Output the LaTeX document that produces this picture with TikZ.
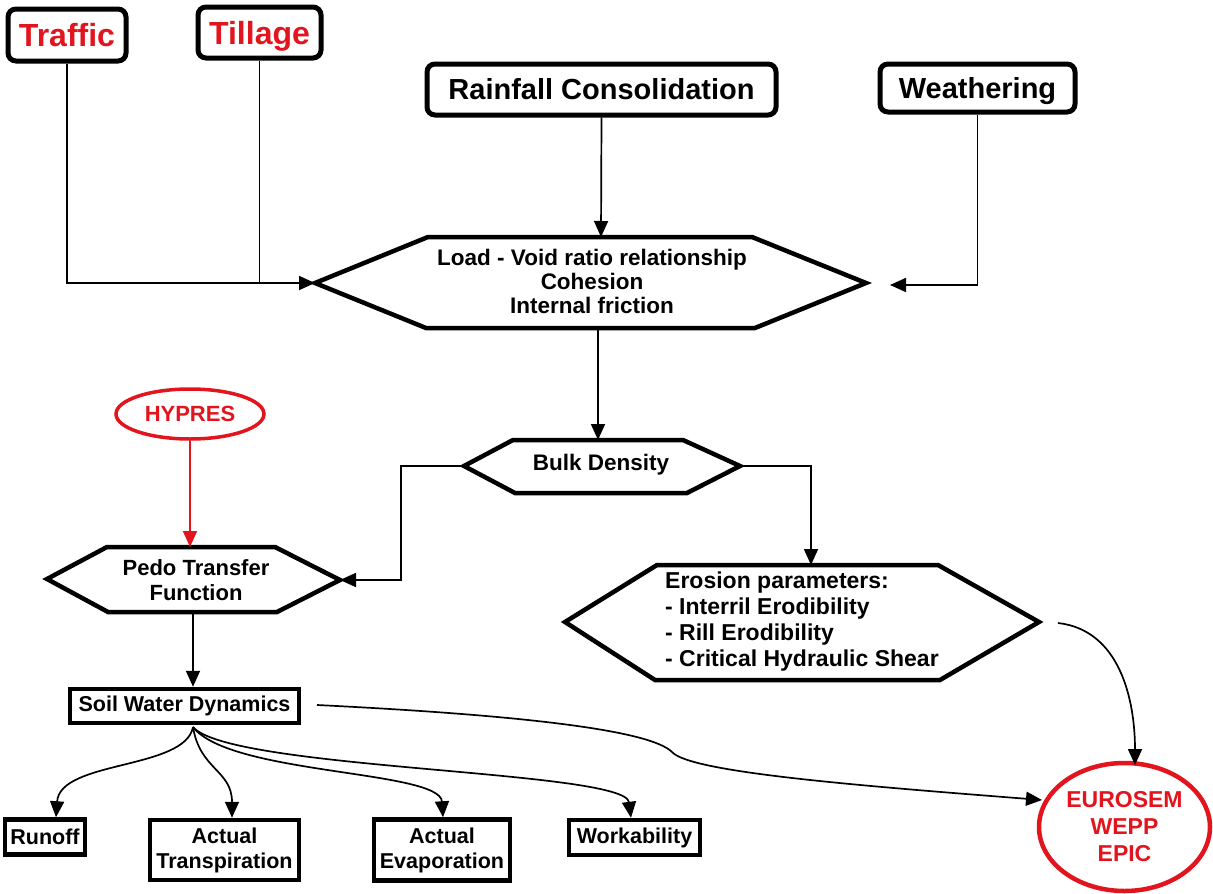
\documentclass[tikz,border=0pt]{standalone}
\usepackage{fontspec}
\setmainfont{Liberation Sans}
\usetikzlibrary{arrows.meta,shapes.geometric,calc}
\definecolor{cred}{RGB}{226,20,30}
\newcommand{\fsz}[2]{\fontsize{#1}{#2}\selectfont\bfseries}
\begin{document}
\begin{tikzpicture}[x=1pt,y=-1pt,
  conn/.style={line width=1.7pt,-{Triangle[length=16pt,width=14pt]}},
  connred/.style={conn,draw=cred,fill=cred},
  plainline/.style={line width=1.7pt},
  hexline/.style={line width=4.5pt,line join=miter},
  rbox/.style={draw,line width=5pt,rounded corners=8pt,inner sep=0pt,align=center},
  sbox/.style={draw,line width=4.5pt,inner sep=0pt,align=center},
  lbl/.style={inner sep=0pt,align=center},
  redell/.style={draw=cred,ellipse,text=cred,inner sep=0pt,align=center}
]
\useasboundingbox (0,0) rectangle (1213,894);
\fill[white] (0,0) rectangle (1213,894);

% top boxes
\node[rbox,text=cred,minimum width=118pt,minimum height=52pt,font=\fsz{32}{36}] (traffic) at (67,35) {Traffic};
\node[rbox,text=cred,minimum width=123pt,minimum height=51pt,text depth=0pt,font=\fsz{32}{36}] (tillage) at (259.5,32.5) {Tillage};
\node[rbox,minimum width=349pt,minimum height=51pt,font=\fsz{29}{33}] (rain) at (601.5,89.5) {Rainfall Consolidation};
\node[rbox,minimum width=195pt,minimum height=48pt,text depth=0pt,font=\fsz{29}{33}] (weather) at (977.5,88) {Weathering};

% Load hexagon
\coordinate (loadW) at (315,283);
\coordinate (loadE) at (866,283);
\coordinate (loadN) at (601,237);
\coordinate (loadS) at (598,328);
\draw[hexline] (loadW) -- (428,237) -- (752,237) -- (loadE) -- (755,328) -- (426,328) -- cycle;
\node[lbl,font=\fsz{22.5}{24}] (load) at (592,281) {Load - Void ratio relationship\\Cohesion\\Internal friction};

% Bulk density hexagon
\coordinate (bulkW) at (464,466);
\coordinate (bulkE) at (740,466);
\coordinate (bulkN) at (598,440);
\draw[hexline] (bulkW) -- (513,440) -- (683,440) -- (bulkE) -- (687,493) -- (515,493) -- cycle;
\node[lbl,font=\fsz{22.5}{24}] (bulk) at (601,465) {Bulk Density};

% Erosion hexagon
\coordinate (erosW) at (565,622);
\coordinate (erosE) at (1039,622);
\coordinate (erosN) at (811,565);
\coordinate (erosOut) at (1058,623);
\draw[hexline] (erosW) -- (657,565) -- (938,565) -- (erosE) -- (940,680) -- (655,680) -- cycle;
\node[lbl,align=left,anchor=west,font=\fsz{23}{26}] (eros) at (665,622) {Erosion parameters:\\- Interril Erodibility\\- Rill Erodibility\\- Critical Hydraulic Shear};

% Pedo transfer hexagon
\coordinate (pedoW) at (47,579);
\coordinate (pedoE) at (340,580);
\coordinate (pedoN) at (190,547);
\coordinate (pedoS) at (193,612);
\draw[hexline] (pedoW) -- (107,547) -- (275,547) -- (pedoE) -- (277,612) -- (108,612) -- cycle;
\node[lbl,font=\fsz{22}{25}] (pedo) at (196,580) {Pedo Transfer\\Function};

% HYPRES
\node[redell,line width=3.5pt,minimum width=148pt,minimum height=50pt,font=\fsz{22}{24}] (hypres) at (190,414) {HYPRES};

% Soil water dynamics and outputs
\node[sbox,minimum width=229pt,minimum height=34pt,font=\fsz{21.5}{24}] (swd) at (184.5,706) {Soil Water Dynamics};
\coordinate (swdB) at (193,727);
\coordinate (swdR) at (317,705);
\node[sbox,minimum width=80pt,minimum height=35pt,font=\fsz{21.5}{24}] (runoff) at (45,837) {Runoff};
\node[sbox,minimum width=149pt,minimum height=60pt,font=\fsz{21.5}{25}] (transp) at (224.5,850) {Actual\\Transpiration};
\node[sbox,minimum width=136pt,minimum height=61pt,font=\fsz{21.5}{25}] (evap) at (442,850) {Actual\\Evaporation};
\node[sbox,minimum width=131pt,minimum height=35pt,font=\fsz{21.5}{24}] (work) at (634.5,837.5) {Workability};

% EUROSEM
\node[redell,line width=4.5pt,minimum width=171pt,minimum height=128pt,font=\fsz{23}{27}] (euro) at (1124.5,827) {EUROSEM\\WEPP\\EPIC};

% connectors
\draw[conn] (traffic.south) |- (loadW);
\draw[plainline] (tillage.south) -- (tillage.south |- loadW);
\draw[conn] (rain.south) -- (loadN);
\draw[conn] (weather.south) |- (890,285);
\draw[conn] (loadS) -- (bulkN);
\draw[conn] (bulkW) -- ++(-63,0) |- (pedoE);
\draw[conn] (bulkE) -| (erosN);
\draw[connred] (hypres.south) -- (pedoN);
\draw[conn] (pedoS) -- (pedoS |- swd.north);

\draw[conn] (swdB) .. controls (185,770) and (60,760) .. ([xshift=11pt]runoff.north);
\draw[conn] (swdB) .. controls (200,770) and (232,770) .. ([xshift=7.5pt]transp.north);
\draw[conn] (swdB) .. controls (230,775) and (440,770) .. ([xshift=1pt]evap.north);
\draw[conn] (swdB) .. controls (230,770) and (625,770) .. ([xshift=-3.5pt]work.north);

\draw[conn] (swdR) .. controls (520,715) and (650,730) .. (672,752) .. controls (690,772) and (850,785) .. (1042,800);
\draw[conn] (erosOut) .. controls (1120,630) and (1135,700) .. (1135,765);
\end{tikzpicture}
\end{document}
